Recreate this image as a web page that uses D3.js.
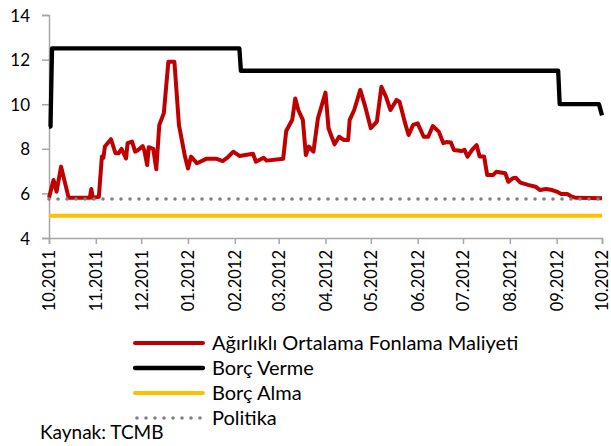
<!DOCTYPE html>
<html>
<head>
<meta charset="utf-8">
<script src="https://cdn.jsdelivr.net/npm/d3@7"></script>
<style>
  body { margin: 0; background: #fff; }
  text { font-family: Lato, "Open Sans", sans-serif; fill: #000; }
</style>
</head>
<body>
<div id="graph"></div>
<script>
// Funding cost vs. corridor rates, TCMB 10.2011 - 10.2012

var fundDates = ["2011-10-18","2011-10-21","2011-10-23","2011-10-26","2011-10-31","2011-11-14","2011-11-15","2011-11-16",
  "2011-11-20","2011-11-22","2011-11-23","2011-11-24","2011-11-28","2011-12-01","2011-12-03","2011-12-05","2011-12-08",
  "2011-12-09","2011-12-12","2011-12-14","2011-12-16","2011-12-19","2011-12-20","2011-12-22","2011-12-23","2011-12-26",
  "2011-12-28","2011-12-30","2012-01-02","2012-01-05","2012-01-09","2012-01-12","2012-01-16","2012-01-18","2012-01-20",
  "2012-01-24","2012-01-30","2012-02-06","2012-02-10","2012-02-13","2012-02-17","2012-02-21","2012-03-01","2012-03-03",
  "2012-03-08","2012-03-10","2012-03-21","2012-03-23","2012-03-27","2012-03-29","2012-03-31","2012-04-03","2012-04-05",
  "2012-04-07","2012-04-10","2012-04-13","2012-04-18","2012-04-20","2012-04-22","2012-04-24","2012-04-27","2012-04-30",
  "2012-05-03","2012-05-04","2012-05-07","2012-05-11","2012-05-14","2012-05-18","2012-05-22","2012-05-25","2012-05-28",
  "2012-05-31","2012-06-04","2012-06-06","2012-06-10","2012-06-12","2012-06-15","2012-06-18","2012-06-22","2012-06-25",
  "2012-06-28","2012-07-02","2012-07-05","2012-07-07","2012-07-10","2012-07-12","2012-07-17","2012-07-19","2012-07-21",
  "2012-07-24","2012-07-27","2012-07-29","2012-08-01","2012-08-03","2012-08-07","2012-08-09","2012-08-15","2012-08-17",
  "2012-08-20","2012-08-22","2012-08-25","2012-08-30","2012-09-04","2012-09-07","2012-09-11","2012-09-15","2012-09-18",
  "2012-09-21","2012-09-25","2012-09-28","2012-10-01","2012-10-18"];
var fundValues = [5.8,6.6,6.08,7.2,5.8,5.8,6.2,5.8,
  5.85,7.65,7.6,8.1,8.43,7.8,7.8,8.0,7.57,
  8.25,8.32,7.87,7.95,8.12,7.95,7.27,8.07,8.0,
  7.08,9.07,9.6,11.9,11.9,9.07,7.65,7.12,7.65,
  7.35,7.55,7.55,7.45,7.6,7.87,7.68,7.78,7.42,
  7.6,7.47,7.55,8.8,9.3,10.26,9.74,9.3,7.72,
  8.1,7.87,9.37,10.52,8.92,8.55,8.2,8.54,8.4,
  8.4,9.3,9.74,10.64,9.96,8.92,9.22,10.78,10.34,
  9.74,10.19,10.11,9.07,8.62,9.07,9.14,8.54,8.54,
  9.02,8.77,8.25,8.3,8.28,7.95,7.9,7.95,7.65,
  7.95,8.17,7.65,7.65,6.83,6.83,6.97,6.9,6.52,
  6.68,6.7,6.48,6.38,6.3,6.15,6.2,6.15,6.08,
  5.97,5.97,5.85,5.8,5.78];

var lendDates = ["2011-10-18","2011-10-19","2011-10-20","2012-02-21","2012-02-22","2012-09-19","2012-09-20","2012-10-16","2012-10-18"];
var lendValues = [9, 9, 12.5, 12.5, 11.5, 11.5, 10, 10, 9.5];

var borrowDates = ["2011-10-18","2012-10-18"];
var borrowValues = [5, 5];

var policyDates = ["2011-10-18","2012-10-18"];
var policyValues = [5.75, 5.75];

var yTicks = [4, 6, 8, 10, 12, 14];
var xTickLabels = ["10.2011","11.2011","12.2011","01.2012","02.2012","03.2012","04.2012",
  "05.2012","06.2012","07.2012","08.2012","09.2012","10.2012"];

var seriesNames = ["Ağırlıklı Ortalama Fonlama Maliyeti", "Borç Verme", "Borç Alma", "Politika"];
var source = "Kaynak: TCMB";

var width = 611, height = 446,
    margin = {"top": 15, "right": 9, "bottom": 208, "left": 49},
    graph_width = width - (margin.left + margin.right),
    graph_height = height - (margin.top + margin.bottom);

var parse = d3.timeParse("%Y-%m-%d");
function zipSeries(dates, values) {
  return dates.map((d, i) => ({"date": parse(d), "value": values[i]}));
}

var series = [
  {"name": seriesNames[0], "data": zipSeries(fundDates, fundValues), "color": "#C00000", "width": 4, "dash": null},
  {"name": seriesNames[1], "data": zipSeries(lendDates, lendValues), "color": "#000000", "width": 4.3, "dash": null},
  {"name": seriesNames[2], "data": zipSeries(borrowDates, borrowValues), "color": "#FFC000", "width": 4, "dash": null},
  {"name": seriesNames[3], "data": zipSeries(policyDates, policyValues), "color": "#808080", "width": 3.6, "dash": "0,9"}
];

var x = d3.scaleTime()
    .domain([parse("2011-10-18"), parse("2012-10-18")])
    .range([0, graph_width]);
var y = d3.scaleLinear()
    .domain([4, 14])
    .range([graph_height, 0]);

var svg = d3.select("#graph").append("svg")
    .attr("width", width)
    .attr("height", height);
var graph = svg.append("g")
    .attr("transform", "translate(" + margin.left + "," + margin.top + ")");

// axes
var xTickDates = xTickLabels.map(s => d3.timeParse("%m.%Y")(s)).map(d => d3.timeDay.offset(d, 17));

var yAxis = graph.append("g")
    .call(d3.axisLeft(y).tickValues(yTicks).tickSize(7).tickPadding(12));
var xAxis = graph.append("g")
    .attr("transform", "translate(0," + graph_height + ")")
    .call(d3.axisBottom(x).tickValues(xTickDates).tickSize(6).tickFormat((d, i) => xTickLabels[i]));

[xAxis, yAxis].forEach(a => {
  a.select(".domain").attr("stroke", "#A6A6A6").attr("stroke-width", 1.5);
  a.selectAll(".tick line").attr("stroke", "#A6A6A6").attr("stroke-width", 1.5);
});
yAxis.selectAll(".tick text").style("font-size", "17px").attr("dy", "0.36em");
xAxis.selectAll(".tick text")
    .style("font-size", "16.5px")
    .attr("text-anchor", "end")
    .attr("transform", "rotate(-90)")
    .attr("x", -12)
    .attr("y", 0)
    .attr("dy", "0.36em");

// lines
var line = d3.line()
    .x(d => x(d.date))
    .y(d => y(d.value));

graph.selectAll(".series")
    .data(series)
  .enter().append("path")
    .attr("class", "series")
    .attr("d", d => line(d.data))
    .attr("fill", "none")
    .attr("stroke", d => d.color)
    .attr("stroke-width", d => d.width)
    .attr("stroke-linejoin", "round")
    .attr("stroke-linecap", d => d.dash ? "round" : "butt")
    .attr("stroke-dasharray", d => d.dash);

// legend
var legend = svg.append("g")
    .attr("transform", "translate(135,343)");
var item = legend.selectAll(".item")
    .data(series)
  .enter().append("g")
    .attr("class", "item")
    .attr("transform", (d, i) => "translate(0," + (i * 25) + ")");
item.append("line")
    .attr("x1", d => d.dash ? 2 : 0)
    .attr("x2", 68)
    .attr("stroke", d => d.color)
    .attr("stroke-width", d => d.width)
    .attr("stroke-linecap", "round")
    .attr("stroke-dasharray", d => d.dash);
item.append("text")
    .attr("x", 77)
    .attr("y", 7)
    .style("font-size", "20px")
    .text(d => d.name);

svg.append("text")
    .attr("x", 40)
    .attr("y", 439)
    .style("font-size", "19px")
    .text(source);
</script>
</body>
</html>
